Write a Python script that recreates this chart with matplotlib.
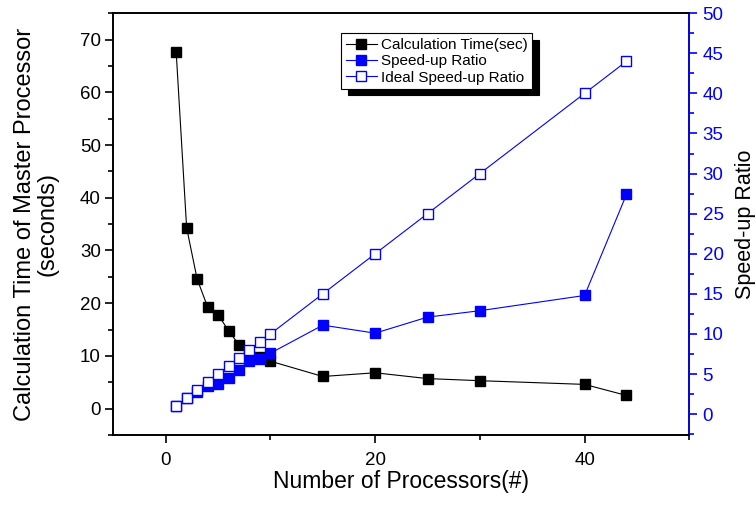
import matplotlib.pyplot as plt
from matplotlib.ticker import MultipleLocator

plt.rcParams['font.family'] = ['Liberation Sans', 'DejaVu Sans']

# data
processors = [1, 2, 3, 4, 5, 6, 7, 8, 9, 10, 15, 20, 25, 30, 40, 44]
calc_time = [67.7, 34.3, 24.6, 19.3, 17.8, 14.8, 12.1, 10.0, 9.8, 9.0, 6.1, 6.8, 5.7, 5.3, 4.6, 2.5]
speed_up = [1.0, 1.98, 2.75, 3.45, 3.75, 4.57, 5.55, 6.65, 6.9, 7.6, 11.1, 10.1, 12.1, 12.9, 14.8, 27.4]
ideal_speed_up = [1, 2, 3, 4, 5, 6, 7, 8, 9, 10, 15, 20, 25, 30, 40, 44]


def main():
    fig = plt.figure(figsize=(7.56, 5.07), dpi=100)
    ax = fig.add_axes([0.1499, 0.142, 0.7619, 0.832])
    ax2 = ax.twinx()

    l1, = ax.plot(processors, calc_time, color='k', lw=0.8, marker='s', ms=6.5,
                  mfc='k', mec='k', label='Calculation Time(sec)')
    l2, = ax2.plot(processors, speed_up, color='#0000ff', lw=0.8, marker='s', ms=6.5,
                   mfc='#0000ff', mec='#0000ff', label='Speed-up Ratio')
    l3, = ax2.plot(processors, ideal_speed_up, color='#0000ff', lw=0.8, marker='s', ms=6.5,
                   mfc='white', mec='#0000ff', mew=1.0, label='Ideal Speed-up Ratio')

    ax.set_xlim(-5, 50)
    ax.set_ylim(-5, 75)
    ax2.set_ylim(-2.6, 50)

    ax.xaxis.set_major_locator(MultipleLocator(20))
    ax.xaxis.set_minor_locator(MultipleLocator(10))
    ax.yaxis.set_major_locator(MultipleLocator(10))
    ax.yaxis.set_minor_locator(MultipleLocator(5))
    ax2.yaxis.set_major_locator(MultipleLocator(5))
    ax2.yaxis.set_minor_locator(MultipleLocator(2.5))

    for a in (ax, ax2):
        for s in a.spines.values():
            s.set_linewidth(1.2)
    ax2.spines['right'].set_color('#0000ff')

    ax.tick_params(which='major', direction='out', length=6, width=1.2, labelsize=13.5, pad=3)
    ax.tick_params(axis='x', which='major', pad=6)
    ax.tick_params(which='minor', direction='out', length=3.5, width=1.2)
    ax2.tick_params(which='major', direction='out', length=6, width=1.2, labelsize=13.5,
                    color='#0000ff', labelcolor='#0000ff')
    ax2.tick_params(which='minor', direction='out', length=3.5, width=1.2, color='#0000ff')

    ax.set_xlabel('Number of Processors(#)', fontsize=16.5, labelpad=1)
    ax.set_ylabel('Calculation Time of Master Processor\n(seconds)', fontsize=17,
                  labelpad=15, linespacing=1.05)
    ax2.set_ylabel('Speed-up Ratio', fontsize=15.5, labelpad=8)

    leg = ax.legend(handles=[l1, l2, l3], loc='upper left', bbox_to_anchor=(0.396, 0.952),
                    fontsize=11, frameon=True, fancybox=False, framealpha=1,
                    edgecolor='k', handlelength=2.0, handletextpad=0.3,
                    borderpad=0.3, labelspacing=0.15, borderaxespad=0,
                    shadow={'color': 'k', 'alpha': 1, 'ox': 4.5, 'oy': -4.5})
    leg.get_frame().set_linewidth(0.8)
    leg.set_zorder(10)

    fig.savefig('out.png', dpi=100)


if __name__ == '__main__':
    main()
